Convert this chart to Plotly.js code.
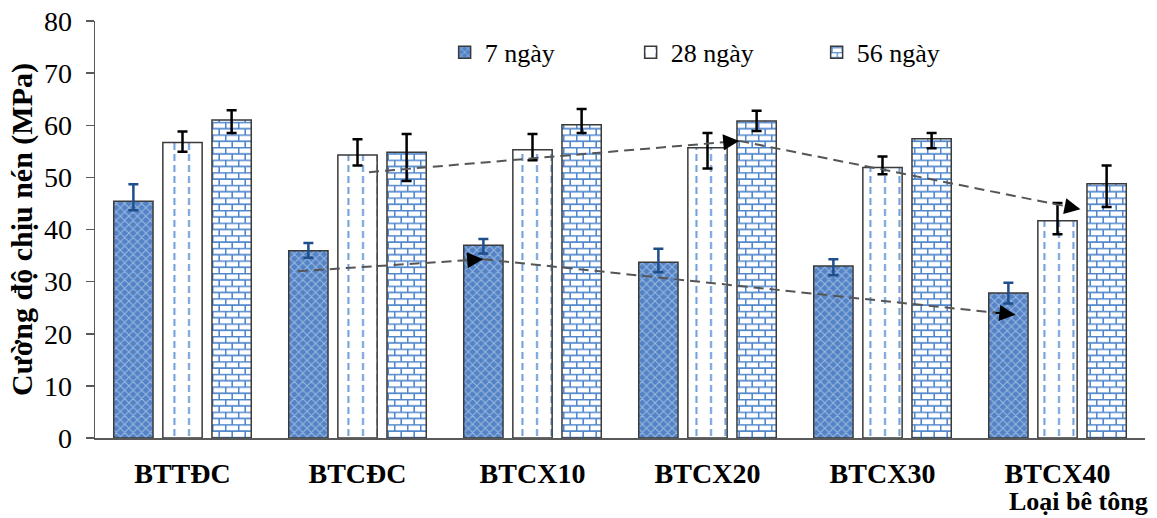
<!DOCTYPE html>
<html>
<head>
<meta charset="utf-8">
<script src="https://cdn.plot.ly/plotly-3.0.1.min.js"></script>
<style>html,body{margin:0;padding:0;background:#fff;}#chart{width:1157px;height:518px;}</style>
</head>
<body>
<div id="chart"></div>
<script>
// ---- data ----
const categories = ["BTTĐC", "BTCĐC", "BTCX10", "BTCX20", "BTCX30", "BTCX40"];
const seriesNames = ["7 ngày", "28 ngày", "56 ngày"];

const day7  = [45.4, 35.9, 37.0, 33.7, 33.0, 27.8];
const day28 = [56.7, 54.3, 55.3, 55.7, 51.9, 41.7];
const day56 = [61.0, 54.8, 60.1, 60.8, 57.4, 48.8];

const day7ErrPlus   = [3.3, 1.5, 1.2, 2.6, 1.3, 2.0];
const day7ErrMinus  = [1.7, 1.3, 1.6, 1.9, 1.8, 2.0];
const day28ErrPlus  = [2.1, 3.0, 3.0, 2.8, 2.1, 3.4];
const day28ErrMinus = [1.8, 2.0, 2.0, 4.0, 1.3, 2.6];
const day56ErrPlus  = [1.9, 3.5, 3.0, 2.0, 1.1, 3.5];
const day56ErrMinus = [2.5, 5.5, 1.6, 1.9, 1.8, 4.5];

const yTicks = [0, 10, 20, 30, 40, 50, 60, 70, 80];

// trend arrows: [startIdx, startY, midIdx, midY, endIdx, endY]
const trend7  = [0.659, 32.0, 1.718, 34.3, 4.759, 23.65];
const trend28 = [1.066, 51.0, 3.181, 57.0, 5.131, 43.9];

const font = "'Liberation Serif', 'Times New Roman', serif";

const C7 = "#5383c6", C28 = "#6a9bd8", C56 = "#4f86cc";

const traces = [
  {
    type: "bar", name: seriesNames[0], x: categories, y: day7,
    marker: {
      color: C7,
      line: {color: "#3a3a3a", width: 1.5},
      pattern: {shape: "x", fgcolor: "#e6eef9", bgcolor: C7, size: 6, solidity: 0.3, fillmode: "overlay"}
    },
    error_y: {type: "data", symmetric: false, array: day7ErrPlus, arrayminus: day7ErrMinus,
              color: "#1f4e8c", thickness: 2.5, width: 5}
  },
  {
    type: "bar", name: seriesNames[1], x: categories, y: day28,
    marker: {
      color: "#ffffff",
      line: {color: "#3a3a3a", width: 1.5},
      pattern: {shape: "|", fgcolor: C28, bgcolor: "#ffffff", size: 14, solidity: 0.14, fillmode: "overlay"}
    },
    error_y: {type: "data", symmetric: false, array: day28ErrPlus, arrayminus: day28ErrMinus,
              color: "#000000", thickness: 2.5, width: 5}
  },
  {
    type: "bar", name: seriesNames[2], x: categories, y: day56,
    marker: {
      color: "#ffffff",
      line: {color: "#3a3a3a", width: 1.5},
      pattern: {shape: "-", fgcolor: C56, bgcolor: "#ffffff", size: 7, solidity: 0.22, fillmode: "overlay"}
    },
    error_y: {type: "data", symmetric: false, array: day56ErrPlus, arrayminus: day56ErrMinus,
              color: "#000000", thickness: 2.5, width: 5}
  }
];

function dashLine(x0, y0, x1, y1) {
  return {type: "line", xref: "x", yref: "y", x0: x0, y0: y0, x1: x1, y1: y1,
          line: {color: "#555555", width: 2, dash: "10px,6px"}, layer: "above"};
}
function arrowHead(xs, ys, xe, ye) {
  const f = 0.04;
  return {xref: "x", yref: "y", axref: "x", ayref: "y", x: xe, y: ye,
          ax: xe - (xe - xs) * f, ay: ye - (ye - ys) * f, text: "",
          showarrow: true, arrowhead: 2, arrowsize: 1.6, arrowwidth: 2, arrowcolor: "#000000"};
}

const shapes = [
  dashLine(trend7[0], trend7[1], trend7[2], trend7[3]),
  dashLine(trend7[2], trend7[3], trend7[4], trend7[5]),
  dashLine(trend28[0], trend28[1], trend28[2], trend28[3]),
  dashLine(trend28[2], trend28[3], trend28[4], trend28[5])
];

const annotations = [
  arrowHead(trend7[0], trend7[1], trend7[2], trend7[3]),
  arrowHead(trend7[2], trend7[3], trend7[4], trend7[5]),
  arrowHead(trend28[0], trend28[1], trend28[2], trend28[3]),
  arrowHead(trend28[2], trend28[3], trend28[4], trend28[5]),
  {xref: "paper", yref: "paper", x: 1.004, y: -0.152, xanchor: "right", yanchor: "middle",
   borderpad: 0, text: "<b>Loại bê tông</b>", showarrow: false, font: {family: font, size: 26, color: "#000"}}
];

const layout = {
  width: 1157, height: 518,
  margin: {l: 95, r: 12, t: 21, b: 80},
  paper_bgcolor: "#ffffff", plot_bgcolor: "#ffffff",
  font: {family: font, size: 26, color: "#000000"},
  barmode: "group", bargap: 0.158, bargroupgap: 0.2,
  showlegend: true,
  legend: {orientation: "h", x: 0.333, xanchor: "left", y: 0.925, yanchor: "middle",
           entrywidth: 141, entrywidthmode: "pixels", traceorder: "normal",
           font: {family: font, size: 26, color: "#000"}, bgcolor: "rgba(0,0,0,0)"},
  xaxis: {
    type: "category", showgrid: false, zeroline: false,
    showline: true, linecolor: "#595959", linewidth: 1.5,
    ticks: "", ticklabelstandoff: 10,
    tickfont: {family: font, size: 28, color: "#000"},
    tickvals: categories, ticktext: categories.map(c => "<b>" + c + "</b>")
  },
  yaxis: {
    range: [0, 80], tickvals: yTicks, showgrid: false, zeroline: false,
    showline: true, linecolor: "#595959", linewidth: 1.5,
    ticks: "outside", ticklen: 8, tickcolor: "#595959", tickwidth: 1.5,
    ticklabelstandoff: 8,
    tickfont: {family: font, size: 28, color: "#000"},
    title: {text: "<b>Cường độ chịu nén (MPa)</b>", font: {family: font, size: 30, color: "#000"}, standoff: 2}
  },
  shapes: shapes,
  annotations: annotations
};

// texture refinement: turn Plotly's pattern tiles into brick / dashed tiles like the reference
function hexToRgbStr(h) {
  const n = parseInt(h.slice(1), 16);
  return [(n >> 16) & 255, (n >> 8) & 255, n & 255].join(", ");
}
function refineTextures(gd) {
  const r28 = hexToRgbStr(C28), r56 = hexToRgbStr(C56);
  gd.querySelectorAll("pattern").forEach(p => {
    const html = p.innerHTML.replace(/\s+/g, " ");
    if (html.indexOf(r56) >= 0 || html.indexOf(C56) >= 0) {
      p.setAttribute("width", "13");
      p.setAttribute("height", "12.6");
      p.innerHTML =
        '<rect x="0" y="0" width="13" height="12.6" fill="#ffffff"/>' +
        '<path d="M0,0.6H13M0,6.9H13M0.7,0.6V6.9M7.2,6.9V12.6" stroke="' + C56 + '" stroke-width="1.6" fill="none"/>';
    } else if (html.indexOf(r28) >= 0 || html.indexOf(C28) >= 0) {
      p.setAttribute("width", "14.5");
      p.setAttribute("height", "11");
      p.innerHTML =
        '<rect x="0" y="0" width="14.5" height="11" fill="#ffffff"/>' +
        '<path d="M7,1V8" stroke="' + C28 + '" stroke-width="2" fill="none"/>';
    }
  });
}

Plotly.newPlot("chart", traces, layout, {displayModeBar: false, staticPlot: true})
  .then(gd => refineTextures(gd));
</script>
</body>
</html>
